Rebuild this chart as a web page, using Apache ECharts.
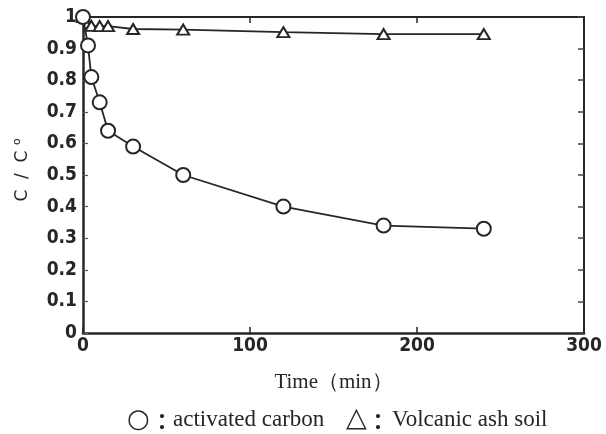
<!DOCTYPE html>
<html>
<head>
<meta charset="utf-8">
<script src="https://cdn.jsdelivr.net/npm/echarts@6/dist/echarts.min.js"></script>
<style>html,body{margin:0;padding:0;background:#fff}#c{width:606px;height:434px}</style>
</head>
<body>
<div id="c"></div>
<script>
const xTicks = [0, 100, 200, 300];
const yTicks = [0, 0.1, 0.2, 0.3, 0.4, 0.5, 0.6, 0.7, 0.8, 0.9, 1];
const carbonTime = [0, 3, 5, 10, 15, 30, 60, 120, 180, 240];
const carbonC = [1.0, 0.91, 0.81, 0.73, 0.64, 0.59, 0.50, 0.40, 0.34, 0.33];
const ashTime = [0, 5, 10, 15, 30, 60, 120, 180, 240];
const ashC = [1.0, 0.972, 0.971, 0.971, 0.962, 0.960, 0.952, 0.946, 0.946];
const seriesNames = ['activated carbon', 'Volcanic ash soil'];
const xTitle = 'Time（min）';
const legendSymbols = ['○', '△'];

const ink = '#262626';
const labelFont = {fontFamily: 'DejaVu Sans Condensed', fontWeight: 'bold', fontSize: 19, color: ink};
const chart = echarts.init(document.getElementById('c'), null, {renderer: 'canvas'});
chart.setOption({
  animation: false,
  backgroundColor: '#fff',
  grid: {left: 83, right: 22, top: 17, bottom: 101},
  xAxis: [{
    type: 'value', min: xTicks[0], max: xTicks[xTicks.length - 1], interval: 100, position: 'bottom',
    axisLine: {onZero: false, lineStyle: {color: ink, width: 2.5}},
    axisTick: {inside: true, length: 6, lineStyle: {color: ink, width: 1.5}},
    axisLabel: Object.assign({margin: 4}, labelFont),
    splitLine: {show: false},
    name: xTitle, nameLocation: 'middle', nameGap: 39,
    nameTextStyle: {fontFamily: 'Liberation Serif', fontSize: 21, color: ink}
  }, {
    type: 'value', min: xTicks[0], max: xTicks[xTicks.length - 1], interval: 100, position: 'top',
    axisLine: {onZero: false, lineStyle: {color: ink, width: 2}},
    axisTick: {inside: true, length: 6, lineStyle: {color: ink, width: 1.5}},
    axisLabel: {show: false}, splitLine: {show: false}
  }],
  yAxis: [{
    type: 'value', min: 0, max: 1, interval: 0.1, position: 'left',
    axisLine: {onZero: false, lineStyle: {color: ink, width: 2.5}},
    axisTick: {inside: true, length: 5, lineStyle: {color: '#555', width: 1.2}},
    axisLabel: Object.assign({margin: 6, formatter: v => (v === 0 || v === 1) ? String(v) : v.toFixed(1)}, labelFont),
    splitLine: {show: false},
    name: 'C  /  C {s|o}', nameLocation: 'middle', nameGap: 50, nameRotate: 90,
    nameTextStyle: {fontFamily: 'DejaVu Sans', fontSize: 17, color: ink, padding: [0, 0, 0, 10],
      rich: {s: {fontSize: 11, fontFamily: 'DejaVu Sans', color: ink, padding: [0, 0, 10, 0]}}}
  }, {
    type: 'value', min: 0, max: 1, interval: 0.1, position: 'right',
    axisLine: {onZero: false, lineStyle: {color: ink, width: 2}},
    axisTick: {inside: true, length: 6, lineStyle: {color: '#444', width: 1.5}},
    axisLabel: {show: false}, splitLine: {show: false}
  }],
  series: [{
    name: seriesNames[1], type: 'line', xAxisIndex: 0, yAxisIndex: 0,
    data: ashTime.map((t, i) => [t, ashC[i]]),
    symbol: 'triangle', symbolSize: [12, 10], showAllSymbol: true,
    lineStyle: {color: ink, width: 1.8},
    itemStyle: {color: '#fff', borderColor: ink, borderWidth: 2},
    z: 2
  }, {
    name: seriesNames[0], type: 'line', xAxisIndex: 0, yAxisIndex: 0,
    data: carbonTime.map((t, i) => [t, carbonC[i]]),
    symbol: 'circle', symbolSize: 14, showAllSymbol: true,
    lineStyle: {color: ink, width: 1.8},
    itemStyle: {color: '#fff', borderColor: ink, borderWidth: 2},
    z: 3
  }],
  graphic: [
    {type: 'text', x: 127, y: 420, style: {text: legendSymbols[0], font: '26px "DejaVu Sans"', fill: ink, verticalAlign: 'middle'}},
    {type: 'text', x: 151, y: 421, style: {text: '：', font: 'bold 22px "Noto Sans CJK JP"', fill: ink, verticalAlign: 'middle'}},
    {type: 'text', x: 173, y: 420, style: {text: seriesNames[0], font: '23px "Liberation Serif"', fill: ink, verticalAlign: 'middle'}},
    {type: 'text', x: 346, y: 419, style: {text: legendSymbols[1], font: '27px "DejaVu Sans"', fill: ink, verticalAlign: 'middle'}},
    {type: 'text', x: 367, y: 421, style: {text: '：', font: 'bold 22px "Noto Sans CJK JP"', fill: ink, verticalAlign: 'middle'}},
    {type: 'text', x: 392, y: 420, style: {text: seriesNames[1], font: '23px "Liberation Serif"', fill: ink, verticalAlign: 'middle'}}
  ]
});
</script>
</body>
</html>
